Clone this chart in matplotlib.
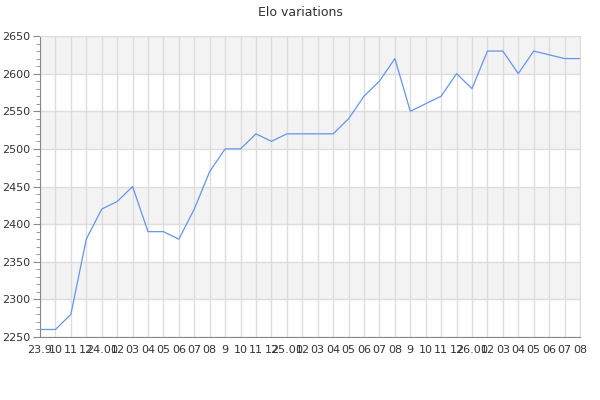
import matplotlib
matplotlib.use("Agg")
import matplotlib.pyplot as plt
from matplotlib.ticker import MultipleLocator

labels = ["23.9", "10", "11", "12",
          "24.01", "02", "03", "04", "05", "06", "07", "08", "9", "10", "11", "12",
          "25.01", "02", "03", "04", "05", "06", "07", "08", "9", "10", "11", "12",
          "26.01", "02", "03", "04", "05", "06", "07", "08"]
elo = [2260, 2260, 2280, 2380,
       2420, 2430, 2450, 2390, 2390, 2380, 2420, 2470, 2500, 2500, 2520, 2510,
       2520, 2520, 2520, 2520, 2540, 2570, 2590, 2620, 2550, 2560, 2570, 2600,
       2580, 2630, 2630, 2600, 2630, 2625, 2620, 2620]

fig = plt.figure(figsize=(6, 4), dpi=100)
ax = fig.add_axes([40/600, 1-337/400, 540/600, (337-36)/400])

x = list(range(len(elo)))
ymin, ymax = 2250, 2650
for i, lo in enumerate(range(ymin, ymax, 50)):
    if i % 2 == 1:
        ax.axhspan(lo, lo + 50, color="#f3f3f3", zorder=0, lw=0)

ax.plot(x, elo, color="#6495ed", lw=0.9, zorder=3)
ax.set_xlim(0, len(elo) - 1)
ax.set_ylim(ymin, ymax)
ax.set_xticks(x)
ax.set_xticklabels(labels)
ax.yaxis.set_major_locator(MultipleLocator(50))
ax.yaxis.set_minor_locator(MultipleLocator(10))
ax.grid(True, which="major", color="#dddddd", lw=1, zorder=1)
ax.set_axisbelow(True)

for s in ["top", "right"]:
    ax.spines[s].set_color("#dddddd")
ax.spines["left"].set_color("#888888")
ax.spines["bottom"].set_color("#888888")
ax.tick_params(axis="y", which="major", length=5, color="#888888", labelsize=8, labelcolor="#333333", pad=2)
ax.tick_params(axis="y", which="minor", length=3, color="#888888")
ax.tick_params(axis="x", length=0, labelsize=8, labelcolor="#333333", pad=6)

fig.suptitle("Elo variations", y=0.985, fontsize=9, color="#333333")
fig.savefig("out.png", dpi=100, facecolor="white")
